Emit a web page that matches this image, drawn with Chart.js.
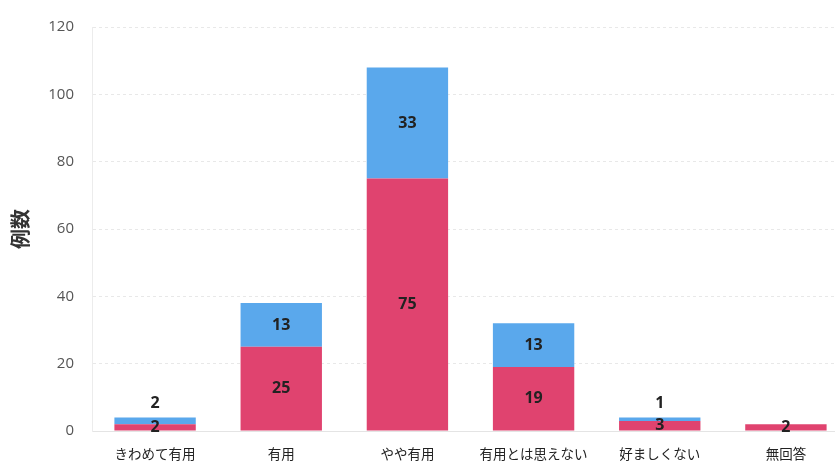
<!DOCTYPE html>
<html>
<head>
<meta charset="utf-8">
<script src="https://cdn.jsdelivr.net/npm/chart.js@4/dist/chart.umd.min.js"></script>
<style>
  html, body { margin: 0; padding: 0; background: #fff; overflow: hidden; }
  #wrap { width: 849px; height: 463px; position: relative; }
</style>
</head>
<body>
<div id="wrap"><canvas id="grafico"></canvas></div>
<script>
// 回答区分
const categorias = ["きわめて有用", "有用", "やや有用", "有用とは思えない", "好ましくない", "無回答"];
// 下段（赤）と上段（青）の例数
const valoresRojo = [2, 25, 75, 19, 3, 2];
const valoresAzul = [2, 13, 33, 13, 1, 0];
const ticksY = [0, 20, 40, 60, 80, 100, 120];

const fuenteJP = "'Noto Sans CJK JP', 'Noto Sans', sans-serif";

// 各セグメントの中央に数値を描く（小さい青セグメントは棒の上へ）
const etiquetas = {
    id: "etiquetas",
    afterDatasetsDraw(chart) {
        const ctx = chart.ctx;
        ctx.save();
        ctx.font = "bold 16px 'Open Sans', 'Noto Sans', sans-serif";
        ctx.fillStyle = "#222";
        ctx.textAlign = "center";
        ctx.textBaseline = "middle";
        chart.data.datasets.forEach((ds, i) => {
            const meta = chart.getDatasetMeta(i);
            meta.data.forEach((bar, j) => {
                const v = ds.data[j];
                if (!v) return;
                const p = bar.getProps(["x", "y", "base"], true);
                const alto = Math.abs(p.base - p.y);
                let y = (p.y + p.base) / 2;
                if (i === 1 && alto < 12) y = p.y - 14;
                ctx.fillText(String(v), p.x, y);
            });
        });
        ctx.restore();
    }
};

new Chart(document.getElementById("grafico"), {
    type: "bar",
    data: {
        labels: categorias,
        datasets: [
            {
                label: "赤",
                data: valoresRojo,
                backgroundColor: "#e0436f",
                categoryPercentage: 1,
                barPercentage: 0.645
            },
            {
                label: "青",
                data: valoresAzul,
                backgroundColor: "#5aa8ec",
                categoryPercentage: 1,
                barPercentage: 0.645
            }
        ]
    },
    options: {
        responsive: true,
        maintainAspectRatio: false,
        animation: false,
        layout: { padding: { top: 24, right: 0, left: 0, bottom: 0 } },
        plugins: {
            legend: { display: false },
            tooltip: { enabled: false }
        },
        scales: {
            x: {
                stacked: true,
                grid: { display: false, drawTicks: false },
                border: { display: true, color: "#e4e4e4", dash: [3, 2] },
                ticks: {
                    color: "#222",
                    padding: 15,
                    font: { family: fuenteJP, size: 13.5 }
                },
                afterFit(scale) { scale.height = 32; }
            },
            y: {
                stacked: true,
                min: 0,
                max: 120,
                afterBuildTicks(scale) {
                    scale.ticks = ticksY.map(v => ({ value: v }));
                },
                grid: { color: "#e8e8e8", drawTicks: false },
                border: { display: true, color: "#ececec", dash: [3, 3] },
                ticks: {
                    color: "#555",
                    padding: 18,
                    font: { family: "'Open Sans', sans-serif", size: 15 }
                },
                title: {
                    display: true,
                    text: "例数",
                    color: "#333",
                    padding: { top: 8, bottom: 6 },
                    font: { family: fuenteJP, size: 20, weight: "bold" }
                },
                afterFit(scale) { scale.width = 92; }
            }
        }
    },
    plugins: [etiquetas]
});
</script>
</body>
</html>
